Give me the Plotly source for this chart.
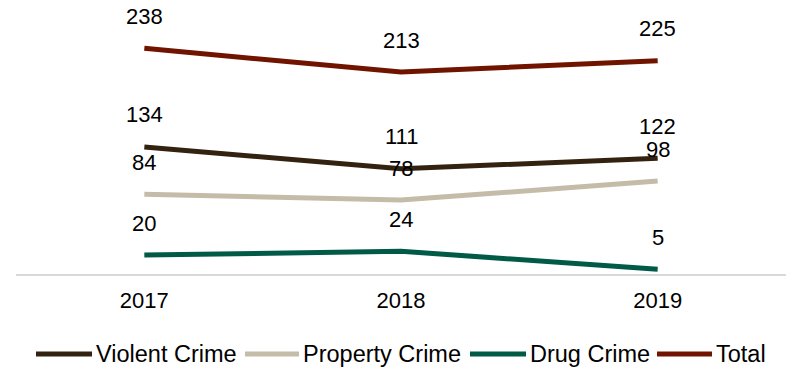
import plotly.graph_objects as go

# Yearly counts by offense category
years = ["2017", "2018", "2019"]
violent = [134, 111, 122]
property_crime = [84, 78, 98]
drug = [20, 24, 5]
total = [238, 213, 225]

series_names = ["Violent Crime", "Property Crime", "Drug Crime", "Total"]
series_values = [violent, property_crime, drug, total]
series_colors = ["#33220f", "#c4bca9", "#005a46", "#701400"]

W, H = 788, 368
M_L, M_R, M_T, M_B = 16, 2, 0, 94
PLOT_W = W - M_L - M_R
PLOT_H = H - M_T - M_B
FONT = "Liberation Sans, Arial, sans-serif"


def px_to_paper_x(px):
    return (px - M_L) / PLOT_W


def px_to_paper_y(py):
    return (H - M_B - py) / PLOT_H


fig = go.Figure()

for name, vals, color in zip(series_names, series_values, series_colors):
    fig.add_trace(go.Scatter(
        x=years, y=vals, name=name, mode="lines",
        line=dict(color=color, width=5),
        showlegend=False, hoverinfo="x+y+name",
    ))
    # value labels above each point (category index positions on the x axis)
    for idx, v in enumerate(vals):
        fig.add_annotation(
            x=idx, y=v, text=str(v), showarrow=False,
            yshift=32, yanchor="middle", xanchor="center",
            font=dict(family=FONT, size=22, color="#000000"),
        )

# Legend row drawn beneath the axis: swatch line followed by its label
legend_swatches = [(36, 92), (245, 299), (470, 526), (657, 712)]
legend_y = 354
for (x0, x1), name, color in zip(legend_swatches, series_names, series_colors):
    fig.add_shape(
        type="line", xref="paper", yref="paper",
        x0=px_to_paper_x(x0), x1=px_to_paper_x(x1),
        y0=px_to_paper_y(legend_y), y1=px_to_paper_y(legend_y),
        line=dict(color=color, width=5),
    )
    fig.add_annotation(
        xref="paper", yref="paper",
        x=px_to_paper_x(x1 + 2), y=px_to_paper_y(legend_y),
        text=name, showarrow=False, xanchor="left", yanchor="middle",
        font=dict(family=FONT, size=23.5, color="#000000"),
    )

fig.update_layout(
    width=W, height=H,
    margin=dict(l=M_L, r=M_R, t=M_T, b=M_B),
    paper_bgcolor="white", plot_bgcolor="white",
    font=dict(family=FONT, size=22, color="#000000"),
    showlegend=False,
    xaxis=dict(
        type="category", range=[-0.5, 2.5],
        showgrid=False, zeroline=False,
        showline=True, linecolor="#d9d9d9", linewidth=2,
        ticks="", ticklabelstandoff=6,
        tickfont=dict(family=FONT, size=22, color="#000000"),
    ),
    yaxis=dict(
        range=[0, 289], visible=False, showgrid=False, zeroline=False,
    ),
)

fig.write_html("out.html")
